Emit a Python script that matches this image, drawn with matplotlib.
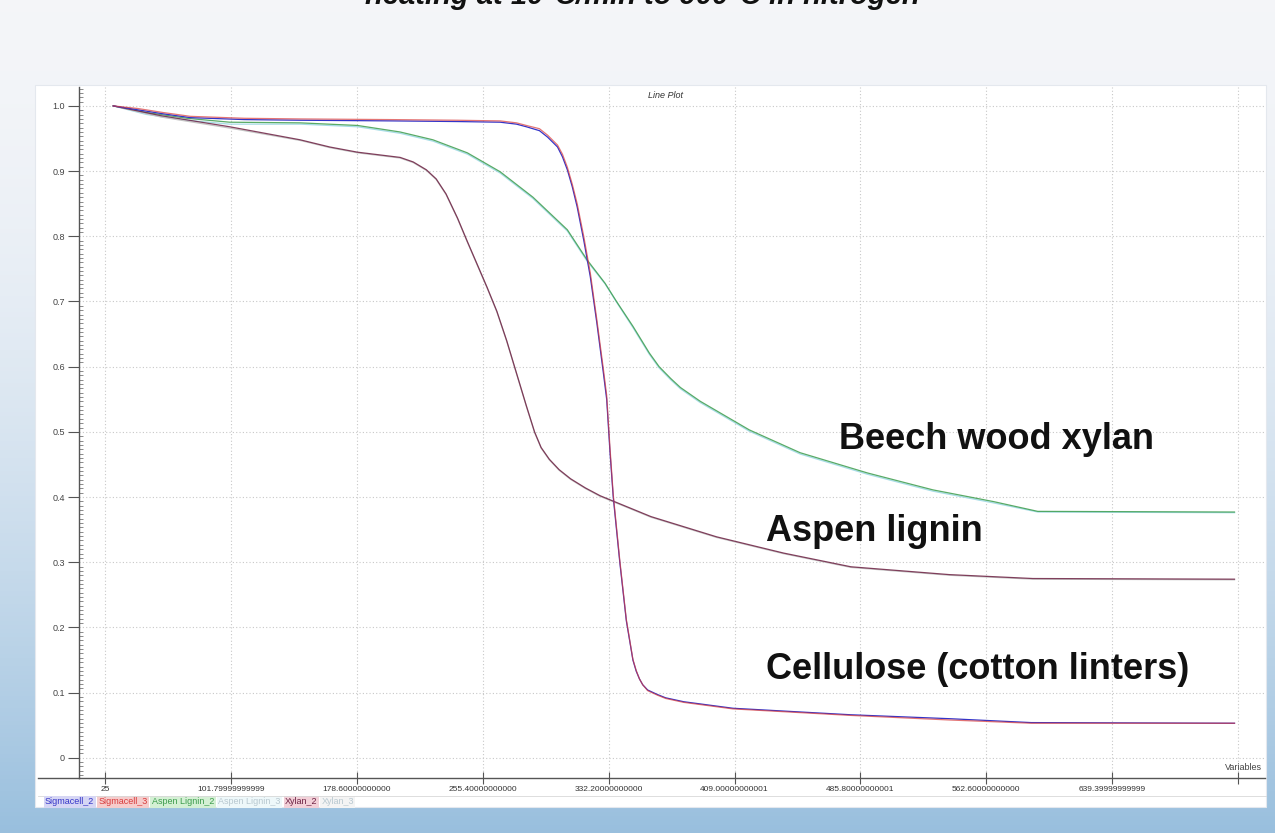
import matplotlib
matplotlib.use('Agg')
import matplotlib.pyplot as plt
import numpy as np
from matplotlib.ticker import FixedLocator, FixedFormatter, AutoMinorLocator
from matplotlib.patches import Rectangle
from matplotlib.lines import Line2D

# --- data (temperature vs. weight fraction) ---
temp_cell = [30, 45, 60, 77, 110, 144, 200, 240, 266, 276, 282, 290, 295, 301, 304, 307, 310,
             313, 317, 321, 325, 329, 331, 333, 335, 339, 343, 347, 349, 351, 353, 356, 362,
             367, 378, 408, 480, 540, 590, 714]
sigmacell_2 = [1.000, 0.994, 0.988, 0.982, 0.979, 0.978, 0.977, 0.976, 0.975, 0.972, 0.968,
               0.962, 0.952, 0.937, 0.922, 0.902, 0.876, 0.845, 0.794, 0.738, 0.667, 0.590,
               0.550, 0.470, 0.400, 0.300, 0.210, 0.150, 0.133, 0.121, 0.112, 0.104, 0.097,
               0.092, 0.086, 0.076, 0.066, 0.060, 0.054, 0.053]
sigmacell_3 = [1.000, 0.996, 0.990, 0.984, 0.981, 0.980, 0.979, 0.978, 0.977, 0.974, 0.970,
               0.965, 0.955, 0.940, 0.926, 0.906, 0.880, 0.850, 0.800, 0.744, 0.672, 0.596,
               0.556, 0.476, 0.404, 0.303, 0.212, 0.151, 0.134, 0.121, 0.112, 0.103, 0.096,
               0.091, 0.085, 0.075, 0.065, 0.058, 0.053, 0.053]

temp_lig = [30, 50, 75, 101, 144, 179, 205, 225, 246, 266, 286, 307, 319, 330, 337, 347,
            357, 363, 370, 376, 388, 418, 449, 490, 530, 567, 594, 714]
aspen_lignin_2 = [1.000, 0.990, 0.981, 0.975, 0.974, 0.970, 0.960, 0.948, 0.928, 0.899, 0.860,
                  0.810, 0.764, 0.728, 0.700, 0.662, 0.621, 0.600, 0.582, 0.568, 0.547, 0.503,
                  0.468, 0.437, 0.411, 0.393, 0.378, 0.377]
aspen_lignin_3 = [1.000, 0.987, 0.978, 0.972, 0.972, 0.968, 0.958, 0.946, 0.926, 0.897, 0.858,
                  0.808, 0.762, 0.727, 0.699, 0.660, 0.619, 0.598, 0.580, 0.566, 0.545, 0.501,
                  0.466, 0.435, 0.409, 0.391, 0.377, 0.376]

temp_xyl = [30, 59, 101, 144, 162, 179, 205, 213, 221, 227, 233, 240, 246, 252, 258, 264, 270,
            276, 282, 287, 291, 296, 302, 309, 318, 327, 358, 398, 439, 480, 540, 591, 714]
xylan_2 = [1.000, 0.985, 0.968, 0.948, 0.937, 0.929, 0.921, 0.914, 0.902, 0.888, 0.865, 0.828,
           0.792, 0.757, 0.722, 0.685, 0.640, 0.590, 0.540, 0.500, 0.476, 0.458, 0.442, 0.428,
           0.414, 0.402, 0.370, 0.339, 0.314, 0.293, 0.281, 0.275, 0.274]
xylan_3 = [1.000, 0.983, 0.966, 0.947, 0.936, 0.928, 0.920, 0.913, 0.901, 0.887, 0.864, 0.827,
           0.791, 0.756, 0.721, 0.684, 0.639, 0.589, 0.539, 0.499, 0.475, 0.457, 0.441, 0.427,
           0.413, 0.401, 0.369, 0.338, 0.313, 0.292, 0.280, 0.274, 0.273]

series_names = ['Sigmacell_2', 'Sigmacell_3', 'Aspen Lignin_2', 'Aspen Lignin_3', 'Xylan_2', 'Xylan_3']
series_colors = ['#3434c8', '#d83a3a', '#3c9c4c', '#a6dce6', '#6e2244', '#c4c4c4']
legend_bg = ['#d6d6f4', '#f6cccc', '#d4f0d4', '#eef8fa', '#f2d0d8', '#f4f4f4']

x_ticks = [25, 101.8, 178.6, 255.4, 332.2, 409.0, 485.8, 562.6, 639.4, 716.2]
x_tick_labels = ['25', '101.79999999999', '178.60000000000', '255.40000000000', '332.20000000000',
                 '409.00000000001', '485.80000000001', '562.60000000000', '639.39999999999', '']
y_ticks = [0, 0.1, 0.2, 0.3, 0.4, 0.5, 0.6, 0.7, 0.8, 0.9, 1.0]
y_tick_labels = ['0', '0.1', '0.2', '0.3', '0.4', '0.5', '0.6', '0.7', '0.8', '0.9', '1.0']

labels = ['Beech wood xylan', 'Aspen lignin', 'Cellulose (cotton linters)']
label_pos = [(473, 0.488), (428, 0.347), (428, 0.135)]

W, H = 1275, 833
narrow = ['Liberation Sans Narrow', 'Liberation Sans', 'DejaVu Sans']


def fx(px):
    return px / W


def fy(py):
    return 1 - py / H


fig = plt.figure(figsize=(W / 100, H / 100), dpi=100)

# slide background gradient
bg = fig.add_axes([0, 0, 1, 1], zorder=-10)
t = np.linspace(0, 1, 200)[:, None] ** 1.8
top = np.array([0.957, 0.962, 0.975])
bot = np.array([0.60, 0.75, 0.87])
grad = top[None, None, :] * (1 - t[..., None]) + bot[None, None, :] * t[..., None]
grad = np.repeat(grad, 2, axis=1)
bg.imshow(grad, aspect='auto', extent=[0, 1, 0, 1])
bg.set_axis_off()

# white plot window
fig.add_artist(Rectangle((fx(35), fy(807)), fx(1266) - fx(35), fy(85) - fy(807),
                         transform=fig.transFigure, fc='white', ec='#e4e8ee', lw=0.8, zorder=-5))

ax = fig.add_axes([fx(79), fy(778), fx(1265) - fx(79), fy(87) - fy(778)])
ax.set_facecolor('none')

lw = 0.9
ax.plot(temp_lig, aspen_lignin_3, color=series_colors[3], lw=lw)
ax.plot(temp_lig, aspen_lignin_2, color=series_colors[2], lw=lw, alpha=0.85)
ax.plot(temp_xyl, xylan_3, color=series_colors[5], lw=lw)
ax.plot(temp_xyl, xylan_2, color=series_colors[4], lw=lw, alpha=0.85)
ax.plot(temp_cell, sigmacell_2, color=series_colors[0], lw=lw)
ax.plot(temp_cell, sigmacell_3, color=series_colors[1], lw=lw, alpha=0.7)

ax.set_xlim(9.1, 732.6)
ax.set_ylim(-0.031, 1.029)

ax.xaxis.set_major_locator(FixedLocator(x_ticks))
ax.xaxis.set_major_formatter(FixedFormatter(x_tick_labels))
ax.yaxis.set_major_locator(FixedLocator(y_ticks))
ax.yaxis.set_major_formatter(FixedFormatter(y_tick_labels))
ax.yaxis.set_minor_locator(AutoMinorLocator(15))

ax.grid(True, which='major', linestyle=(0, (1, 2)), color='#c8c8c8', lw=0.8)
for s in ['top', 'right']:
    ax.spines[s].set_visible(False)
for s in ['left', 'bottom']:
    ax.spines[s].set_color('#555555')
    ax.spines[s].set_linewidth(1.0)

ax.tick_params(axis='y', which='major', direction='out', length=8, width=0.8, color='#555555',
               labelsize=6.5, labelcolor='#444444', pad=2)
ax.tick_params(axis='y', which='minor', direction='in', length=3, width=0.6, color='#777777')
ax.tick_params(axis='x', which='major', direction='inout', length=8, width=0.8, color='#555555',
               labelsize=6, labelcolor='#333333', pad=2)
for lab in ax.get_xticklabels() + ax.get_yticklabels():
    lab.set_family(narrow)

for txt, (tx, ty) in zip(labels, label_pos):
    ax.text(tx, ty, txt, fontsize=26, fontweight='bold', family='Liberation Sans',
            color='#111111', va='center', ha='left')

# extension of the x axis line to the window edge and a separator under the ticks
fig.add_artist(Line2D([fx(38), fx(79)], [fy(778), fy(778)], transform=fig.transFigure,
                      color='#555555', lw=1.0))
fig.add_artist(Line2D([fx(38), fx(1266)], [fy(796), fy(796)], transform=fig.transFigure,
                      color='#d8d8d8', lw=0.6))

fig.text(fx(665), fy(95), 'Line Plot', fontsize=6.5, style='italic', color='#333333',
         ha='center', va='center', family=narrow)
fig.text(fx(1262), fy(768), 'Variables', fontsize=6.5, color='#444444',
         ha='right', va='center', family=narrow)

fig.text(fx(642), fy(4), 'heating at 10°C/min to 900°C in nitrogen', fontsize=21,
         fontweight='bold', style='italic', family='Liberation Sans', ha='center',
         va='baseline', color='#111111')

# legend strip under the axis
prev = fig.text(fx(45), fy(802), series_names[0], fontsize=6.5, color=series_colors[0],
                family=narrow, va='center', ha='left',
                bbox=dict(boxstyle='square,pad=0.15', fc=legend_bg[0], ec='none'))
for name, col, bgc in zip(series_names[1:], series_colors[1:], legend_bg[1:]):
    tcol = col if col not in ('#a6dce6', '#c4c4c4') else '#b8c8d0'
    prev = ax.annotate(name, xy=(1, 0.5), xycoords=prev, xytext=(3, 0),
                       textcoords='offset points', fontsize=6.5, color=tcol, family=narrow,
                       va='center', ha='left', annotation_clip=False,
                       bbox=dict(boxstyle='square,pad=0.15', fc=bgc, ec='none'))

fig.savefig('out.png', dpi=100)
